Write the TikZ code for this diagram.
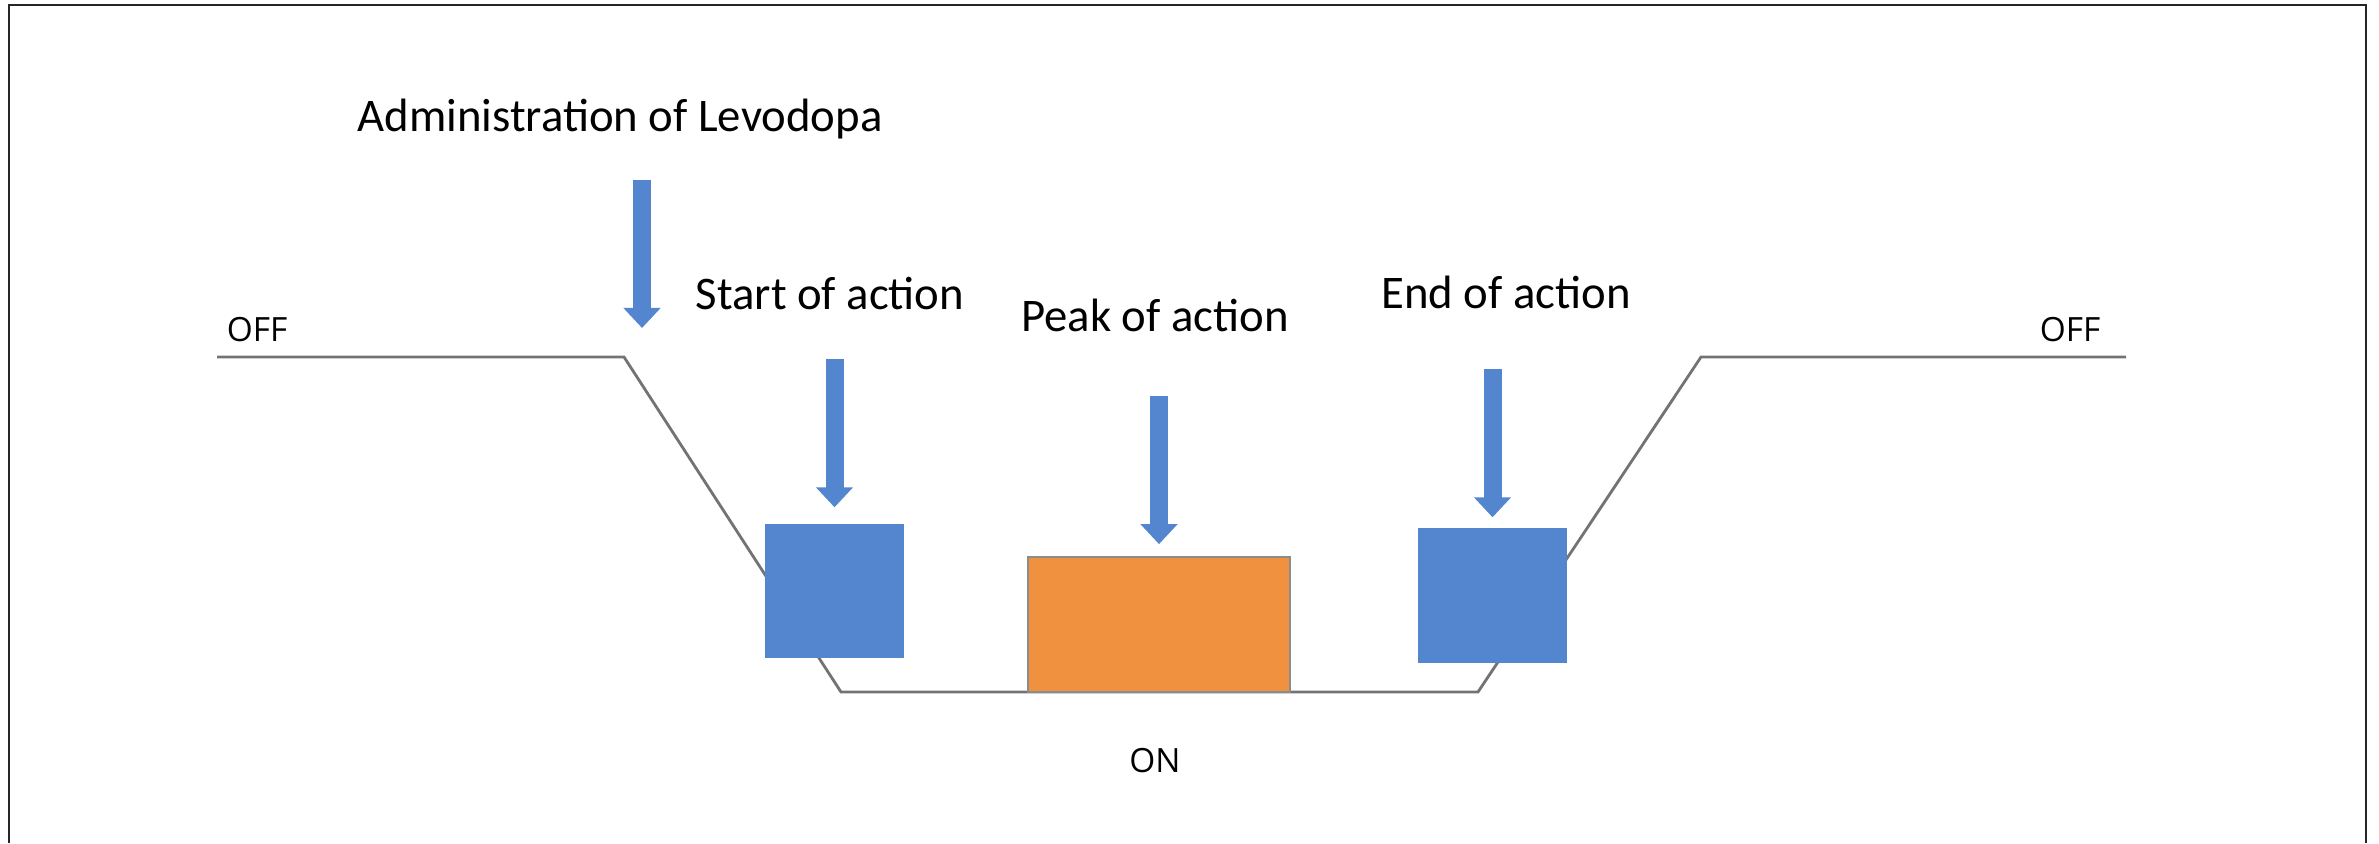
\documentclass[tikz,border=0pt]{standalone}
\usepackage{fontspec}
\setmainfont{Carlito}
\newfontfamily\stateFont{Open Sans}
\usetikzlibrary{arrows.meta,calc}

\definecolor{actblue}{RGB}{84,134,207}
\definecolor{actorange}{RGB}{240,145,64}

\tikzset{
  phase/.style={draw=none, fill=actblue, minimum width=1.39cm, minimum height=1.34cm, inner sep=0pt},
  pointer/.style={actblue, line width=.18cm, -{Triangle[width=.36cm,length=.2cm]}},
  caption/.style={anchor=base, inner sep=0pt, font=\fontsize{13.3}{16}\selectfont},
  state/.style={anchor=base, inner sep=0pt, font=\stateFont\fontsize{9.5}{11}\selectfont}
}

\begin{document}
\begin{tikzpicture}
\useasboundingbox (0,0) rectangle (23.79,8.43);

% frame, open at the bottom
\draw[line width=.8pt, black!85] (.09,0) -- (.09,8.38) -- (23.66,8.38) -- (23.66,0);

% OFF -> ON -> OFF profile
\coordinate (off1) at (2.17,4.86);
\coordinate (drop) at (6.24,4.86);
\coordinate (on1) at (8.41,1.51);
\coordinate (on2) at (14.78,1.51);
\coordinate (rise) at (17.01,4.86);
\coordinate (off2) at (21.26,4.86);
\draw[line width=.8pt, black!55] (off1) -- (drop) -- (on1) -- (on2) -- (rise) -- (off2);

% phases
\node[phase] (startbox) at (8.345,2.52) {};
\node[phase, fill=actorange, draw=black!45, line width=.5pt, minimum width=2.62cm, minimum height=1.35cm] (peakbox) at (11.59,2.185) {};
\node[phase, minimum width=1.49cm, minimum height=1.35cm] (endbox) at (14.925,2.475) {};

% arrows
\coordinate (admin_t) at (6.42,6.63);
\coordinate (admin_h) at (6.42,5.15);
\draw[pointer] (admin_t) -- (admin_h);

\coordinate (start_t) at ($(startbox.north)+(0,1.64)$);
\draw[pointer] (start_t) -- ([yshift=.16cm]startbox.north);

\coordinate (peak_t) at ($(peakbox.north)+(0,1.60)$);
\draw[pointer] (peak_t) -- ([yshift=.12cm]peakbox.north);

\coordinate (end_t) at ($(endbox.north)+(0,1.58)$);
\draw[pointer] (end_t) -- ([yshift=.10cm]endbox.north);

% labels
\node[caption] (admin_d) at (6.20,7.11) {Administration of Levodopa};
\node[caption] (start_d) at (8.30,5.33) {Start of action};
\node[caption] (peak_d) at (11.55,5.11) {Peak of action};
\node[caption] (end_d) at (15.06,5.34) {End of action};

\node[state] (off_l) at (2.57,5.01) {OFF};
\node[state] (off_r) at (20.70,5.01) {OFF};
\node[state] (on_d) at (11.55,0.71) {ON};

\end{tikzpicture}
\end{document}
